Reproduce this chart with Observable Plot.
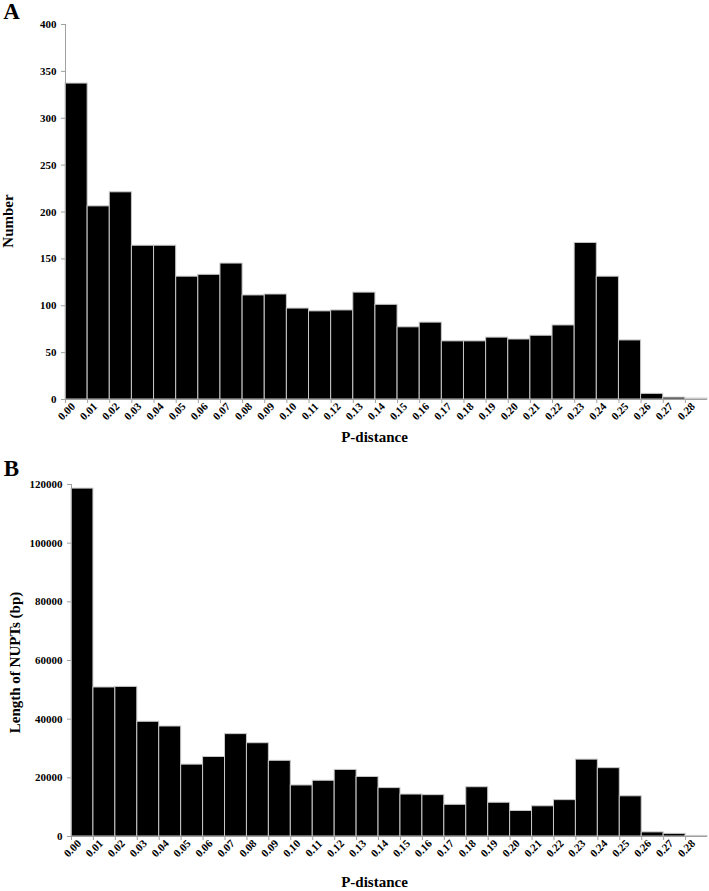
<!DOCTYPE html>
<html>
<head>
<meta charset="utf-8">
<script src="https://cdn.jsdelivr.net/npm/d3@7"></script>
<script src="https://cdn.jsdelivr.net/npm/@observablehq/plot@0.6"></script>
<style>
  html, body { margin: 0; padding: 0; background: #fff; }
  #wrap { width: 709px; }
  svg { display: block; }
</style>
</head>
<body>
<div id="wrap"></div>
<script>
// P-distance bins (left edges), labels shown on the x axis
const binLabels = ["0.00","0.01","0.02","0.03","0.04","0.05","0.06","0.07","0.08","0.09",
  "0.10","0.11","0.12","0.13","0.14","0.15","0.16","0.17","0.18","0.19",
  "0.20","0.21","0.22","0.23","0.24","0.25","0.26","0.27","0.28"];
const binWidth = 0.01;

// Panel A: number of NUPTs per bin
const numberCounts = [337, 206, 221, 164, 164, 131, 133, 145, 111, 112,
  97, 94, 95, 114, 101, 77, 82, 62, 62, 66,
  64, 68, 79, 167, 131, 63, 6, 2, 1];

// Panel B: total length of NUPTs (bp) per bin
const lengthBp = [118600, 50800, 51000, 39100, 37500, 24500, 27100, 34900, 31800, 25800,
  17400, 19000, 22700, 20300, 16500, 14300, 14100, 10800, 16800, 11500,
  8700, 10300, 12400, 26200, 23300, 13700, 1400, 900, 200];

const yTicksA = [0, 50, 100, 150, 200, 250, 300, 350, 400];
const yTicksB = [0, 20000, 40000, 60000, 80000, 100000, 120000];

const xLabel = "P-distance";
const yLabelA = "Number";
const yLabelB = "Length of NUPTs (bp)";

const starts = binLabels.map(Number);
const rowsA = binLabels.map((l, i) => ({start: +l, end: +l + binWidth, label: l, value: numberCounts[i]}));
const rowsB = binLabels.map((l, i) => ({start: +l, end: +l + binWidth, label: l, value: lengthBp[i]}));

function panel({rows, yTicks, yMax, letter, yLabel, height, mt, mb, ml, mr, letterDx, letterDy, ylDx, ylDy, xlDx, xlDy}) {
  return Plot.plot({
    width: 709,
    height,
    marginTop: mt, marginBottom: mb, marginLeft: ml, marginRight: mr,
    style: {fontFamily: "'Liberation Serif', 'Times New Roman', serif", fontWeight: "bold", fontSize: "11px", color: "black", background: "white"},
    x: {type: "linear", domain: [0, 0.29]},
    y: {domain: [0, yMax]},
    marks: [
      Plot.rectY(rows, {x1: "start", x2: "end", y: "value", fill: "black", stroke: "#c8c8c8", strokeWidth: 1}),
      Plot.ruleX([0], {stroke: "#a0a0a0"}),
      Plot.ruleY([0], {stroke: "#a0a0a0"}),
      Plot.axisY({ticks: yTicks, tickFormat: d => String(d), tickSize: 4, tickPadding: 5, stroke: "#a0a0a0", fill: "black", label: null, fontSize: 11}),
      Plot.axisX({ticks: starts, tickFormat: () => "", tickSize: 4, stroke: "#a0a0a0", label: null}),
      Plot.text(rows, {x: "start", text: "label", frameAnchor: "bottom", dx: 1, dy: 12, rotate: -45, textAnchor: "middle", lineAnchor: "middle", fontSize: 11, fontWeight: "bold", fill: "black"}),
      Plot.text([letter], {frameAnchor: "top-left", dx: letterDx, dy: letterDy, fontSize: 23, fontWeight: "bold", textAnchor: "middle", lineAnchor: "middle"}),
      Plot.text([yLabel], {frameAnchor: "left", dx: ylDx, dy: ylDy, rotate: -90, fontSize: 15, fontWeight: "bold", textAnchor: "middle", lineAnchor: "middle"}),
      Plot.text([xLabel], {frameAnchor: "bottom", dx: xlDx, dy: xlDy, fontSize: 15, fontWeight: "bold", textAnchor: "middle", lineAnchor: "middle"})
    ]
  });
}

const wrap = document.getElementById("wrap");
wrap.append(panel({
  rows: rowsA, yTicks: yTicksA, yMax: 400, letter: "A", yLabel: yLabelA,
  height: 445, mt: 24, mb: 46, ml: 65, mr: 2,
  letterDx: -54, letterDy: -13, ylDx: -57, ylDy: 9, xlDx: -12, xlDy: 38
}));
wrap.append(panel({
  rows: rowsB, yTicks: yTicksB, yMax: 120000, letter: "B", yLabel: yLabelB,
  height: 446, mt: 39, mb: 55, ml: 71, mr: 2,
  letterDx: -60, letterDy: -16, ylDx: -56, ylDy: 2, xlDx: -15, xlDy: 46
}));
</script>
</body>
</html>
